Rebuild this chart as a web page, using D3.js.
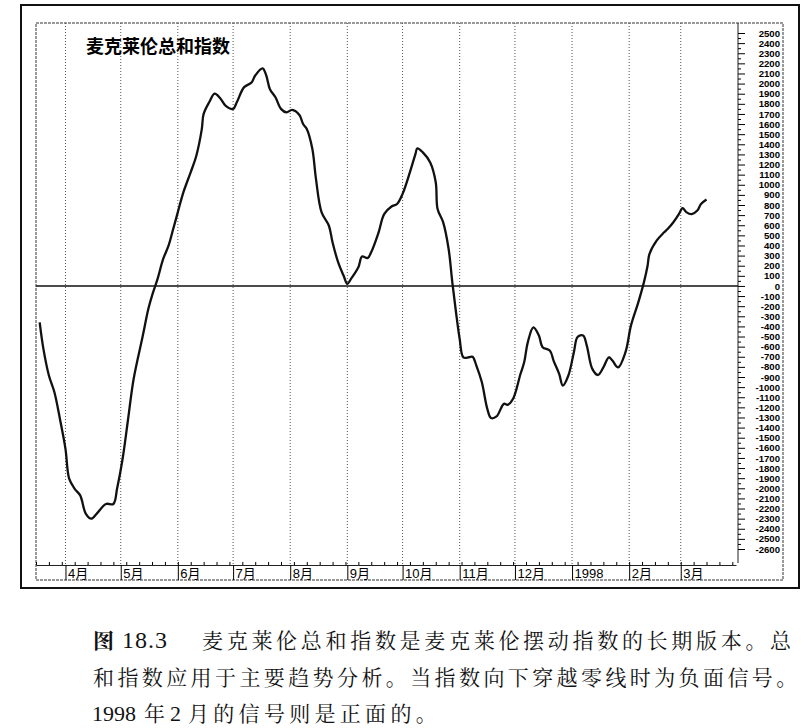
<!DOCTYPE html>
<head>
  <meta charset="utf-8">
  <script src='https://d3js.org/d3.v7.min.js'></script>
  <style>
    body {
      font-family: "Liberation Sans", Arial, sans-serif;
      margin: 0;
      background: #fff;
    }
  </style>
</head>

<body>
<div id='vis'></div>

<script>
// McClellan Summation Index, Mar 1997 - Mar 1998
const dates = [
  "1997-03-18","1997-03-20","1997-03-23","1997-03-26","1997-03-29",
  "1997-04-01","1997-04-03","1997-04-06","1997-04-09","1997-04-12","1997-04-15","1997-04-18","1997-04-23","1997-04-27","1997-04-29",
  "1997-05-02","1997-05-05","1997-05-08","1997-05-13","1997-05-16","1997-05-18","1997-05-21","1997-05-24","1997-05-27","1997-05-29",
  "1997-06-01","1997-06-04","1997-06-08","1997-06-11","1997-06-14","1997-06-15","1997-06-18","1997-06-21","1997-06-24","1997-06-27",
  "1997-07-01","1997-07-03","1997-07-07","1997-07-11","1997-07-13","1997-07-17","1997-07-19","1997-07-21","1997-07-24","1997-07-27","1997-07-30",
  "1997-08-02","1997-08-06","1997-08-08","1997-08-10","1997-08-13","1997-08-15","1997-08-18","1997-08-22","1997-08-24","1997-08-27","1997-08-30",
  "1997-09-01","1997-09-03","1997-09-07","1997-09-09","1997-09-12","1997-09-14","1997-09-18","1997-09-21","1997-09-25","1997-09-28",
  "1997-10-01","1997-10-05","1997-10-08","1997-10-09","1997-10-12","1997-10-16","1997-10-19","1997-10-20","1997-10-23","1997-10-26","1997-10-28","1997-10-30",
  "1997-11-01","1997-11-03","1997-11-06","1997-11-08","1997-11-10","1997-11-13","1997-11-16","1997-11-18","1997-11-21","1997-11-25","1997-11-27","1997-11-30",
  "1997-12-04","1997-12-06","1997-12-08","1997-12-11","1997-12-14","1997-12-16","1997-12-20","1997-12-22","1997-12-25","1997-12-27","1997-12-30",
  "1998-01-02","1998-01-04","1998-01-07","1998-01-09","1998-01-12","1998-01-15","1998-01-18","1998-01-21","1998-01-23","1998-01-26","1998-01-30",
  "1998-02-02","1998-02-06","1998-02-09","1998-02-11","1998-02-12","1998-02-16","1998-02-20","1998-02-22","1998-02-25","1998-02-28",
  "1998-03-02","1998-03-04","1998-03-07","1998-03-10","1998-03-12","1998-03-15"
];

const values = [
  -360, -620, -885, -1050, -1315,
  -1610, -1905, -2005, -2070, -2250, -2300, -2250, -2155, -2155, -2005,
  -1710, -1315, -920, -490, -225, -95, 70, 265, 400, 530,
  730, 925, 1125, 1285, 1550, 1700, 1815, 1900, 1855, 1780,
  1750, 1815, 1965, 2010, 2080, 2150, 2080, 1945, 1865, 1750, 1715,
  1740, 1690, 1600, 1550, 1355, 1055, 730, 595, 430, 235, 100,
  20, 70, 185, 290, 275, 335, 530, 710, 785, 810,
  910, 1125, 1305, 1360, 1320, 1220, 1025, 760, 630, 365, 35, -260,
  -525, -705, -705, -700, -785, -950, -1215, -1305, -1290, -1165, -1175, -1115,
  -870, -755, -555, -410, -490, -605, -640, -740, -870, -985, -885,
  -655, -505, -490, -590, -820, -880, -805, -705, -740, -805, -655,
  -390, -160, 35, 200, 315, 450, 530, 565, 630, 710,
  770, 730, 710, 745, 810, 855
];

const yTicks = d3.range(-2600, 2501, 100);
const monthTicks = ["1997-04-01","1997-05-01","1997-06-01","1997-07-01","1997-08-01","1997-09-01",
                    "1997-10-01","1997-11-01","1997-12-01","1998-01-01","1998-02-01","1998-03-01"];
const monthLabels = ["4月","5月","6月","7月","8月","9月","10月","11月","12月","1998","2月","3月"];

const chartTitle = "麦克莱伦总和指数";

const width = 812;
const height = 728;
const plot = { left: 36, right: 736, top: 23, bottom: 565, axisX: 738 };

const parse = d3.timeParse("%Y-%m-%d");
const data = dates.map((d, i) => ({ date: parse(d), value: values[i] }));

const x = d3.scaleTime()
  .domain([parse("1997-03-16"), parse("1998-03-31")])
  .range([plot.left, plot.right]);

const y = d3.scaleLinear()
  .domain([-2600, 2500])
  .range([549, 33]);

const svg = d3.select('#vis')
  .append('svg')
  .attr('width', width)
  .attr('height', height)

svg.append('rect')
  .attr('width', width)
  .attr('height', height)
  .attr('fill', '#fff')

// outer frame
svg.append('rect')
  .attr('x', 21).attr('y', 5)
  .attr('width', 778).attr('height', 583)
  .attr('fill', 'none')
  .attr('stroke', '#111')
  .attr('stroke-width', 2)

// inner dashed frame
svg.append('rect')
  .attr('x', plot.left).attr('y', plot.top)
  .attr('width', 747).attr('height', 557)
  .attr('fill', 'none')
  .attr('stroke', '#333')
  .attr('stroke-dasharray', '3,1')

const monthDates = monthTicks.map(parse);

// month grid lines
svg.append('g')
  .selectAll('line')
  .data(monthDates)
  .enter()
  .append('line')
  .attr('x1', d => x(d)).attr('x2', d => x(d))
  .attr('y1', plot.top).attr('y2', plot.bottom)
  .attr('stroke', '#555')
  .attr('stroke-dasharray', '1,2')

// zero line
svg.append('line')
  .attr('x1', plot.left).attr('x2', plot.axisX)
  .attr('y1', y(0)).attr('y2', y(0))
  .attr('stroke', '#111')
  .attr('stroke-width', 1.6)

// right value axis
svg.append('line')
  .attr('x1', plot.axisX).attr('x2', plot.axisX)
  .attr('y1', plot.top).attr('y2', plot.bottom - 2)
  .attr('stroke', '#222')

const yAxis = svg.append('g')
  .attr('transform', `translate(${plot.axisX},0)`)
  .call(d3.axisRight(y).tickValues(yTicks).tickSize(7).tickSizeOuter(0).tickFormat(d => String(d)))

yAxis.select('.domain').remove();
yAxis.selectAll('text')
  .attr('x', 42)
  .attr('text-anchor', 'end')
  .style('font-family', '"Liberation Sans Narrow", "Arial Narrow", "Liberation Sans", Arial, sans-serif')
  .style('font-weight', 'bold')
  .style('font-size', '9.6px')
  .attr('fill', '#000')

const yMinor = svg.append('g')
  .attr('transform', `translate(${plot.axisX},0)`)
  .call(d3.axisRight(y).tickValues(d3.range(-2550, 2500, 100)).tickSize(3).tickFormat(''))
yMinor.select('.domain').remove();

// bottom month axis
const xAxis = svg.append('g')
  .attr('transform', `translate(0,${plot.bottom})`)
  .call(d3.axisBottom(x).tickValues(monthDates).tickSize(15).tickSizeOuter(0)
    .tickFormat((d, i) => monthLabels[i]))

xAxis.select('.domain').attr('stroke', '#222');
xAxis.selectAll('text')
  .attr('x', 2)
  .attr('y', 13)
  .attr('dy', 0)
  .attr('text-anchor', 'start')
  .style('font-family', '"Liberation Sans Narrow", "Liberation Sans", "Noto Sans CJK SC", sans-serif')
  .style('font-size', '13px')
  .attr('fill', '#000')

svg.append('g')
  .attr('transform', `translate(0,${plot.bottom})`)
  .call(d3.axisTop(x).ticks(d3.timeWeek.every(1)).tickSize(3).tickSizeOuter(0).tickFormat(''))
  .select('.domain').remove();

// the index line
const line = d3.line()
  .x(d => x(d.date))
  .y(d => y(d.value))
  .curve(d3.curveCatmullRom.alpha(0.5));

svg.append('path')
  .datum(data)
  .attr('d', line)
  .attr('fill', 'none')
  .attr('stroke', '#111')
  .attr('stroke-width', 2.3)
  .attr('stroke-linejoin', 'round')

svg.append('text')
  .attr('x', 86)
  .attr('y', 53)
  .style('font-family', '"Noto Sans CJK SC", sans-serif')
  .style('font-weight', 'bold')
  .style('font-size', '18px')
  .text(chartTitle)

// caption below the chart
const cjk = '"Noto Serif CJK SC", "Noto Sans CJK SC", sans-serif';
const serif = '"Liberation Serif", "Times New Roman", serif';
const caption = svg.append('g').attr('fill', '#111');

function capText(str, cx, cy, opts) {
  caption.append('text')
    .attr('x', cx)
    .attr('y', cy)
    .style('font-family', opts.font)
    .style('font-size', opts.size + 'px')
    .style('font-weight', opts.bold ? 'bold' : 'normal')
    .style('letter-spacing', (opts.spacing || 0) + 'px')
    .text(str)
}

capText("图", 93, 648, { font: cjk, size: 21, bold: true });
capText("18.3", 122, 648, { font: serif, size: 24, spacing: 1 });
capText("麦克莱伦总和指数是麦克莱伦摆动指数的长期版本。总", 202, 648, { font: cjk, size: 21, spacing: 3.7 });
capText("和指数应用于主要趋势分析。当指数向下穿越零线时为负面信号。", 93, 685, { font: cjk, size: 21, spacing: 3.4 });
capText("1998", 92, 721, { font: serif, size: 22 });
capText("年", 144, 721, { font: cjk, size: 21 });
capText("2", 170, 721, { font: serif, size: 22 });
capText("月的信号则是正面的。", 188, 721, { font: cjk, size: 21, spacing: 4.3 });
</script>
</body>
